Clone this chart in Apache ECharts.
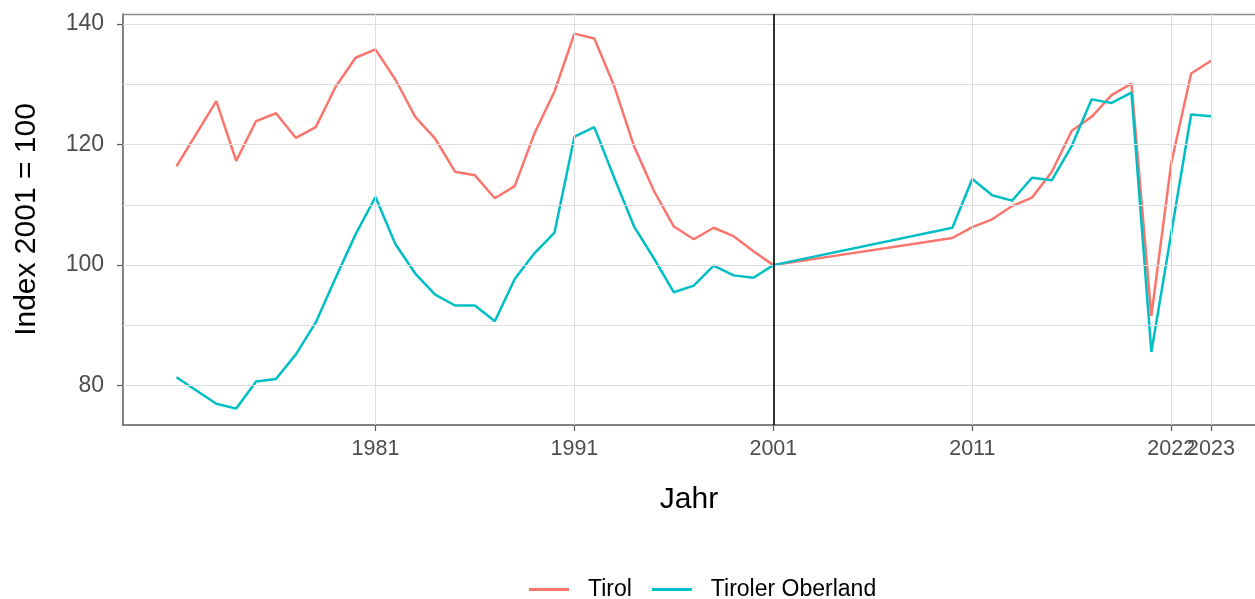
<!DOCTYPE html>
<html>
<head>
<meta charset="utf-8">
<script src="https://cdn.jsdelivr.net/npm/echarts@6/dist/echarts.min.js"></script>
<style>
html,body{margin:0;padding:0;background:#fff;overflow:hidden;}
#chart{width:1255px;height:599px;}
</style>
</head>
<body>
<div id="chart"></div>
<script>
const years = [1971,1972,1973,1974,1975,1976,1977,1978,1979,1980,1981,1982,1983,1984,1985,1986,1987,1988,1989,1990,1991,1992,1993,1994,1995,1996,1997,1998,1999,2000,2001,
  2010,2011,2012,2013,2014,2015,2016,2017,2018,2019,2020,2021,2022,2023];
const tirol = [116.4,121.8,127.2,117.3,123.9,125.2,121.1,122.9,129.6,134.4,135.8,130.8,124.6,121.0,115.5,114.9,111.1,113.1,121.9,128.8,138.4,137.6,129.7,119.7,112.3,106.4,104.3,106.2,104.8,102.3,100,
  104.5,106.3,107.6,109.8,111.2,115.5,122.3,124.6,128.2,130.1,91.6,116.9,131.8,133.9];
const oberland = [81.4,79.2,77.0,76.2,80.7,81.1,85.2,90.5,97.9,105.1,111.3,103.5,98.6,95.1,93.3,93.3,90.7,97.7,102.0,105.4,121.3,122.9,114.5,106.4,101.1,95.5,96.6,99.9,98.3,97.9,100,
  106.2,114.3,111.6,110.7,114.5,114.1,119.8,127.5,126.9,128.6,85.6,105.3,125.0,124.7];
const seriesNames = ['Tirol', 'Tiroler Oberland'];
const xTickValues = [1981, 1991, 2001, 2011, 2021, 2023];
const xTickLabels = ['1981', '1991', '2001', '2011', '2022', '2023'];
const yTickValues = [80, 100, 120, 140];
const yGridValues = [80, 90, 100, 110, 120, 130, 140];
const refYear = 2001;

const colors = ['#F8766D', '#00BFC4'];
const pair = (xs, ys) => xs.map((x, i) => [x, ys[i]]);
const labelFor = v => { const i = xTickValues.indexOf(v); return i >= 0 ? xTickLabels[i] : ''; };
// the crowded label (2021 tick) goes on its own overlay axis so it is not auto-hidden
const crowdedTick = [xTickValues[4]];
const mainLabelTicks = xTickValues.filter(v => crowdedTick.indexOf(v) < 0);

const X_MIN = 1968.31, X_MAX = 2025.21;

const gridLineStyle = {color: '#dedede', width: 1, type: 'solid'};
const gridMarks = [];
yGridValues.forEach(v => gridMarks.push({yAxis: v}));
xTickValues.forEach(v => gridMarks.push({xAxis: v}));

const chart = echarts.init(document.getElementById('chart'), null, {renderer: 'canvas'});
chart.setOption({
  animation: false,
  backgroundColor: '#ffffff',
  textStyle: {fontFamily: 'Liberation Sans, Arial, sans-serif'},
  grid: {left: 123, width: 1134, top: 14, height: 411, show: false, containLabel: false},
  legend: {
    data: seriesNames,
    left: 524,
    top: 573,
    icon: 'rect',
    itemWidth: 40,
    itemHeight: 3,
    itemGap: 20,
    textStyle: {fontSize: 23, color: '#000', padding: [0, 0, 0, 14]}
  },
  xAxis: [
    {
      type: 'value',
      min: X_MIN,
      max: X_MAX,
      name: 'Jahr',
      nameLocation: 'middle',
      nameGap: 60,
      nameTextStyle: {fontSize: 30, color: '#000', verticalAlign: 'top'},
      axisLine: {show: true, onZero: false, lineStyle: {color: '#595959', width: 1.5}},
      axisTick: {show: true, length: 6, customValues: xTickValues, lineStyle: {color: '#595959', width: 1.2}},
      axisLabel: {
        customValues: mainLabelTicks,
        hideOverlap: false,
        fontSize: 21.5,
        color: '#4d4d4d',
        margin: 13,
        formatter: labelFor
      },
      splitLine: {show: false}
    },
    {
      type: 'value',
      min: X_MIN,
      max: X_MAX,
      position: 'top',
      axisLine: {show: true, onZero: false, lineStyle: {color: '#8c8c8c', width: 1.3}},
      axisTick: {show: false},
      axisLabel: {show: false},
      splitLine: {show: false}
    },
    {
      type: 'value',
      min: X_MIN,
      max: X_MAX,
      position: 'bottom',
      axisLine: {show: false, onZero: false},
      axisTick: {show: false},
      axisLabel: {
        customValues: crowdedTick,
        hideOverlap: false,
        fontSize: 21.5,
        color: '#4d4d4d',
        margin: 13,
        formatter: labelFor
      },
      splitLine: {show: false},
      z: 1
    }
  ],
  yAxis: {
    type: 'value',
    min: 73.48,
    max: 141.66,
    name: 'Index 2001 = 100',
    nameLocation: 'middle',
    nameRotate: 90,
    nameGap: 81,
    nameTextStyle: {fontSize: 30, color: '#000'},
    axisLine: {show: true, lineStyle: {color: '#595959', width: 1.5}},
    axisTick: {show: true, length: 6, customValues: yTickValues, lineStyle: {color: '#595959', width: 1.2}},
    axisLabel: {customValues: yTickValues, hideOverlap: false, fontSize: 23, color: '#4d4d4d', margin: 19},
    splitLine: {show: false}
  },
  series: [
    {
      name: '__grid',
      type: 'line',
      data: [],
      z: 1,
      silent: true,
      markLine: {silent: true, symbol: ['none', 'none'], label: {show: false}, lineStyle: gridLineStyle, data: gridMarks, animation: false}
    },
    {
      name: seriesNames[0], type: 'line', data: pair(years, tirol), showSymbol: false, symbol: 'none',
      lineStyle: {color: colors[0], width: 2.5}, itemStyle: {color: colors[0]}, z: 3
    },
    {
      name: seriesNames[1], type: 'line', data: pair(years, oberland), showSymbol: false, symbol: 'none',
      lineStyle: {color: colors[1], width: 2.5}, itemStyle: {color: colors[1]}, z: 3
    },
    {
      name: '__vline',
      type: 'line',
      data: [],
      z: 4,
      silent: true,
      markLine: {silent: true, symbol: ['none', 'none'], label: {show: false}, lineStyle: {color: '#000', width: 1.6, type: 'solid'}, data: [{xAxis: refYear}], animation: false}
    }
  ]
});
</script>
</body>
</html>
